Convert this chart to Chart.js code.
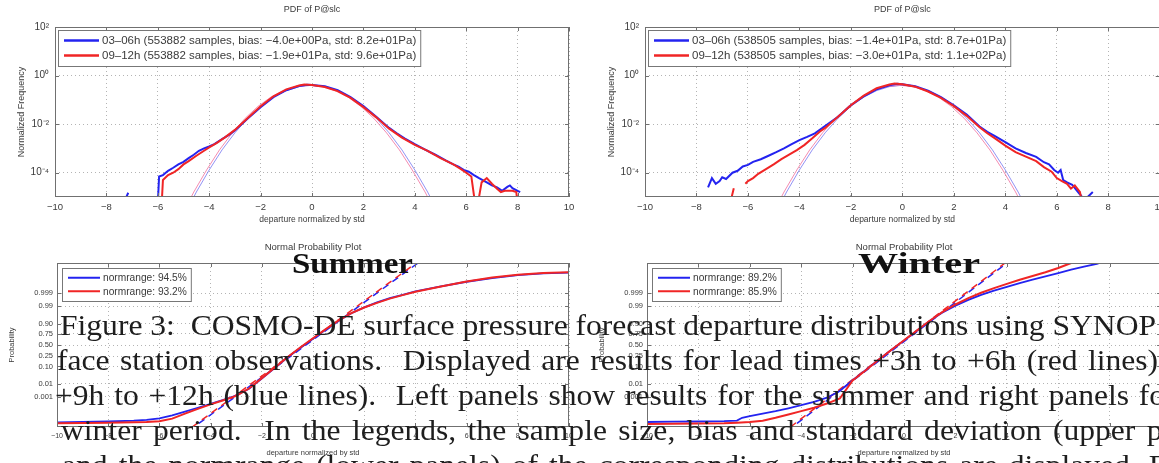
<!DOCTYPE html>
<html>
<head>
<meta charset="utf-8">
<script src="https://cdn.jsdelivr.net/npm/chart.js@4.4.1/dist/chart.umd.min.js"></script>
<style>
  html, body { margin: 0; padding: 0; background: #fff; }
  body { position: relative; width: 1159px; height: 463px; overflow: hidden; }
  canvas { position: absolute; }
  .cap, .season {
    position: absolute; white-space: nowrap; color: #1e1e1e;
    font-family: "Liberation Serif", "Times New Roman", serif;
    transform-origin: 0 0;
  }
  .cap { font-size: 30px; line-height: 30px; }
  .season { font-size: 29px; line-height: 29px; font-weight: bold; color: #111; }
</style>
</head>
<body>
<canvas id="pdfSummer" width="580" height="232" style="left:0;top:0"></canvas>
<canvas id="pdfWinter" width="580" height="232" style="left:590px;top:0"></canvas>
<canvas id="npSummer" width="580" height="227" style="left:0;top:236px"></canvas>
<canvas id="npWinter" width="580" height="227" style="left:590px;top:236px"></canvas>

<div class="season" data-w="121" style="left:292px;top:249px">Summer</div>
<div class="season" data-w="122" style="left:858px;top:249px">Winter</div>

<div class="cap" style="left:60px;top:310px"><span class="ref">Figure 3:&nbsp; COSMO-DE surface pressure forecast departure distributions using SYNOP</span></div>
<div class="cap" style="left:57px;top:345px;word-spacing:2.4px">face station observations.&nbsp; Displayed are results for lead times +3h to +6h (red lines) and</div>
<div class="cap" style="left:55px;top:380px;word-spacing:1.8px">+9h to +12h (blue lines).&nbsp; Left panels show results for the summer and right panels for the</div>
<div class="cap" style="left:61px;top:415px;word-spacing:3.3px">winter period.&nbsp; In the legends, the sample size, bias and standard deviation (upper panels)</div>
<div class="cap" style="left:62px;top:450px;word-spacing:3px">and the normrange (lower panels) of the corresponding distributions are displayed. For</div>

<script>
// ---- PDF panels: departure normalized by std vs normalized frequency ----
const gaussX     = [-5, -4.5, -4, -3.5, -3, -2.5, -2, -1.5, -1, -0.5, 0, 0.5, 1, 1.5, 2, 2.5, 3, 3.5, 4, 4.5, 5];
const gaussXRed  = [-5.1, -4.6, -4.1, -3.6, -3.1, -2.6, -2.1, -1.6, -1.1, -0.6, -0.1, 0.4, 0.9, 1.4, 1.9, 2.4, 2.9, 3.4, 3.9, 4.4, 4.9];
const gaussY     = [1.5e-6, 1.6e-5, 1.3e-4, 8.7e-4, 4.4e-3, 0.0175, 0.054, 0.13, 0.24, 0.35, 0.4,
                    0.35, 0.24, 0.13, 0.054, 0.0175, 4.4e-3, 8.7e-4, 1.3e-4, 1.6e-5, 1.5e-6];

const sumPdfBlueX = [-7.35, -7.15, -7.1, -6.0, -5.95, -5.8, -5.6, -5.4, -5.2, -5.0, -4.8, -4.6, -4.4, -4.2, -4.0, -3.8, -3.5, -3.2, -3.0,
                     -2.5, -2.0, -1.5, -1.0, -0.5, -0.2, 0, 0.5, 1.0, 1.5, 2.0, 2.5, 3.0, 3.3, 3.6, 4.0, 4.4, 4.8, 5.2, 5.5,
                     5.7, 5.9, 6.1, 6.3, 6.5, 6.8, 7.0, 7.2, 7.4, 7.6, 7.7, 7.8, 8.0, 8.1];
const sumPdfBlueY = [5e-6, 1.5e-5, null, 5e-6, 7e-5, 8e-5, 1.2e-4, 1.6e-4, 2.2e-4, 2.8e-4, 4e-4, 5.5e-4, 8e-4, 1.0e-3, 1.2e-3, 1.5e-3, 2.4e-3, 3.8e-3, 5.5e-3,
                     0.017, 0.05, 0.13, 0.25, 0.37, 0.42, 0.41, 0.36, 0.25, 0.13, 0.055, 0.02, 7e-3, 4.2e-3, 2.6e-3, 1.5e-3, 9e-4, 5.5e-4, 3.2e-4, 2.2e-4,
                     1.8e-4, 1.3e-4, 1.1e-4, 8e-5, 6e-5, 4e-5, 3e-5, 2.5e-5, 1.8e-5, 2.6e-5, 3e-5, 2.3e-5, 1.8e-5, 1.6e-5];
const sumPdfRedX  = [-5.85, -5.8, -5.6, -5.4, -5.2, -5.0, -4.8, -4.5, -4.2, -4.0, -3.7, -3.4, -3.0, -2.5, -2.0, -1.5, -1.0, -0.5, -0.3, 0,
                     0.5, 1.0, 1.5, 2.0, 2.5, 3.0, 3.5, 4.0, 4.5, 5.0, 5.5, 5.8, 6.0, 6.2, 6.35, 6.45, 6.6, 6.8, 7.0, 7.2, 7.35, 7.5, 7.8, 7.95, 8.0];
const sumPdfRedY  = [5e-6, 5e-5, 8e-5, 1.0e-4, 1.4e-4, 2.2e-4, 3e-4, 5e-4, 8e-4, 1.1e-3, 1.7e-3, 2.8e-3, 5.8e-3, 0.018, 0.055, 0.14, 0.27, 0.39, 0.43, 0.41,
                     0.34, 0.23, 0.12, 0.05, 0.019, 6.5e-3, 2.8e-3, 1.4e-3, 8e-4, 4e-4, 2.2e-4, 1.4e-4, 1.0e-4, 7e-5, 5e-6, 5e-6, 4e-5, 6e-5, 3.5e-5, 2.2e-5, 1.6e-5, 1.8e-5, 1.8e-5, 1.6e-5, 5e-6];

const winPdfBlueX = [-7.55, -7.4, -7.25, -7.1, -7.0, -6.85, -6.6, -6.4, -6.2, -6.0, -5.8, -5.5, -5.2, -4.9, -4.6, -4.3, -4.0, -3.7, -3.4, -3.1,
                     -2.8, -2.5, -2.0, -1.5, -1.0, -0.5, -0.2, 0, 0.5, 1.0, 1.5, 2.0, 2.5, 3.0, 3.3, 3.6, 4.0, 4.4, 4.8, 5.2,
                     5.5, 5.7, 5.9, 6.05, 6.15, 6.25, 6.4, 6.6, 6.75, 6.9, 7.05, 7.2, 7.4];
const winPdfBlueY = [2.5e-5, 6e-5, 3.5e-5, 4.5e-5, 6.5e-5, 5.5e-5, 1.0e-4, 1.2e-4, 1.8e-4, 2.1e-4, 2.8e-4, 3.6e-4, 5e-4, 7e-4, 1.0e-3, 1.5e-3, 2.2e-3, 3e-3, 4.2e-3, 7e-3,
                     0.012, 0.02, 0.06, 0.14, 0.27, 0.4, 0.46, 0.44, 0.36, 0.24, 0.13, 0.06, 0.025, 8e-3, 4.8e-3, 3.2e-3, 1.8e-3, 1.0e-3, 6.5e-4, 4.5e-4,
                     2.7e-4, 2.2e-4, 1.3e-4, 1.0e-4, 1.3e-4, 5e-5, 4e-5, 3.2e-5, 2e-5, 1.3e-5, 8e-6, 1.0e-5, 1.6e-5];
const winPdfRedX  = [-6.7, -6.55, -6.5, -6.1, -6.0, -5.8, -5.6, -5.3, -5.0, -4.7, -4.4, -4.1, -3.8, -3.5, -3.2, -3.0, -2.5, -2.0, -1.5, -1.0,
                     -0.5, -0.3, 0, 0.5, 1.0, 1.5, 2.0, 2.5, 3.0, 3.3, 3.6, 4.0, 4.4, 4.8, 5.2, 5.5, 5.8, 6.0, 6.2, 6.4, 6.55, 6.7, 6.9, 7.0];
const winPdfRedY  = [5e-6, 2.3e-5, null, 3.5e-5, 4.5e-5, 6e-5, 9e-5, 1.4e-4, 2.2e-4, 3.6e-4, 5.5e-4, 8.5e-4, 1.4e-3, 2.6e-3, 5e-3, 7e-3, 0.02, 0.06, 0.15, 0.3,
                     0.43, 0.47, 0.44, 0.35, 0.22, 0.12, 0.055, 0.022, 7.5e-3, 4.2e-3, 2.6e-3, 1.3e-3, 7e-4, 4.6e-4, 3e-4, 1.7e-4, 1.1e-4, 6e-5, 4.5e-5, 3.5e-5, 2.2e-5, 3e-5, 1.6e-5, 5e-6];

const sumPdfLabels = ['03\u201306h (553882 samples, bias: \u22124.0e+00Pa, std: 8.2e+01Pa)',
                      '09\u201312h (553882 samples, bias: \u22121.9e+01Pa, std: 9.6e+01Pa)'];
const winPdfLabels = ['03\u201306h (538505 samples, bias: \u22121.4e+01Pa, std: 8.7e+01Pa)',
                      '09\u201312h (538505 samples, bias: \u22123.0e+01Pa, std: 1.1e+02Pa)'];
const pdfTickValues = [1e-4, 1e-2, 1, 100];
const pdfTickLabels = ['10\u207B\u2074', '10\u207B\u00B2', '10\u2070', '10\u00B2'];

// ---- normal probability panels (y in standard normal quantiles) ----
const npX        = [-10, -9, -8, -7, -6.5, -6, -5.5, -5, -4.5, -4, -3.5, -3, -2.5, -2, -1.5, -1, -0.5, 0, 0.5, 1, 1.5, 2, 2.5, 3, 3.5, 4, 5, 6, 7, 8, 9, 10];
const sumNpBlueQ = [-4.62, -4.6, -4.57, -4.52, -4.47, -4.38, -4.2, -3.98, -3.75, -3.52, -3.28, -3.02, -2.62, -2.0, -1.38, -0.75, -0.18, 0.37,
                    0.92, 1.45, 1.9, 2.25, 2.55, 2.8, 3.0, 3.2, 3.5, 3.78, 4.0, 4.18, 4.28, 4.33];
const sumNpRedQ  = [-4.68, -4.66, -4.64, -4.62, -4.6, -4.55, -4.4, -4.1, -3.82, -3.55, -3.3, -3.04, -2.6, -1.98, -1.36, -0.73, -0.15, 0.4,
                    0.95, 1.47, 1.9, 2.24, 2.52, 2.77, 2.98, 3.18, 3.5, 3.8, 4.03, 4.2, 4.3, 4.35];
const sumRefBlueX = [-4.65, 4.1],  sumRefRedX = [-4.72, 4.03], sumRefQ = [-4.9, 4.9];

const winNpBlueX = [-10, -9, -8, -7, -6.5, -6.3, -6, -5.5, -5, -4.5, -4, -3.5, -3, -2.5, -2, -1.5, -1, -0.5, 0, 0.5, 1, 1.5, 2, 2.5, 3, 3.5,
                    4, 4.5, 5, 5.5, 6, 6.5, 7, 7.5, 7.7];
const winNpBlueQ = [-4.6, -4.58, -4.57, -4.55, -4.52, -4.35, -4.25, -4.1, -3.95, -3.78, -3.6, -3.4, -3.15, -2.75, -2.1, -1.5, -0.9, -0.3, 0.26,
                    0.85, 1.43, 1.95, 2.35, 2.7, 3.0, 3.25, 3.48, 3.7, 3.9, 4.1, 4.3, 4.5, 4.68, 4.85, 4.95];
const winNpRedX  = [-10, -9, -8, -7, -6.5, -6, -5.5, -5, -4.5, -4, -3.5, -3, -2.5, -2, -1.5, -1, -0.5, 0, 0.5, 1, 1.5, 2, 2.5, 3, 3.5,
                    4, 4.5, 5, 5.5, 6, 6.3, 6.5, 6.7];
const winNpRedQ  = [-4.72, -4.7, -4.69, -4.67, -4.64, -4.6, -4.52, -4.35, -4.15, -3.95, -3.75, -3.5, -3.2, -2.12, -1.52, -0.9, -0.3, 0.28,
                    0.87, 1.45, 1.98, 2.42, 2.8, 3.12, 3.4, 3.65, 3.9, 4.12, 4.35, 4.6, 4.78, 4.9, 5.05];
const winRefBlueX = [-4.35, 4.0], winRefRedX = [-4.42, 3.93], winRefQ = [-4.9, 4.9];

const sumNpLabels = ['normrange: 94.5%', 'normrange: 93.2%'];
const winNpLabels = ['normrange: 89.2%', 'normrange: 85.9%'];
const probTickQ      = [-3.090, -2.326, -1.282, -0.674, 0, 0.674, 1.282, 2.326, 3.090];
const probTickLabels = ['0.001', '0.01', '0.10', '0.25', '0.50', '0.75', '0.90', '0.99', '0.999'];

const BLUE = '#2323f0', RED = '#f02525';
const SANS = '"Liberation Sans", Arial, Helvetica, sans-serif';
const TXT = '#3a3a3a';

const pts = (xs, ys) => xs.map((x, i) => ({ x: x, y: ys[i] }));
const minusFmt = v => (v < 0 ? '\u2212' + (-v) : String(v));

// closed axes box with inward tick marks
const axesBox = {
  id: 'axesBox',
  afterDatasetsDraw(chart) {
    const { ctx, chartArea: a, scales } = chart;
    ctx.save();
    ctx.strokeStyle = '#707070';
    ctx.lineWidth = 1;
    ctx.strokeRect(Math.round(a.left) + 0.5, Math.round(a.top) + 0.5,
                   Math.round(a.right - a.left) - 1, Math.round(a.bottom - a.top) - 1);
    ctx.beginPath();
    scales.x.ticks.forEach(t => {
      const x = Math.round(scales.x.getPixelForValue(t.value)) + 0.5;
      ctx.moveTo(x, a.bottom); ctx.lineTo(x, a.bottom - 4);
      ctx.moveTo(x, a.top);    ctx.lineTo(x, a.top + 4);
    });
    scales.y.ticks.forEach(t => {
      const y = Math.round(scales.y.getPixelForValue(t.value)) + 0.5;
      ctx.moveTo(a.left, y);  ctx.lineTo(a.left + 4, y);
      ctx.moveTo(a.right, y); ctx.lineTo(a.right - 4, y);
    });
    ctx.stroke();
    ctx.restore();
  }
};

// legend box drawn inside the axes, upper left
const boxLegend = {
  id: 'boxLegend',
  afterDraw(chart, args, opts) {
    const { ctx, chartArea: a } = chart;
    const rows = chart.data.datasets.filter(d => d.inLegend).sort((p, q) => p.inLegend - q.inLegend);
    ctx.save();
    ctx.font = opts.fontSize + 'px ' + SANS;
    const textW = Math.max(...rows.map(r => ctx.measureText(r.label).width));
    const x0 = a.left + opts.dx, y0 = a.top + opts.dy;
    const w = 6 + opts.lineLen + 3 + textW + 4;
    const h = rows.length * opts.rowH + 6;
    ctx.fillStyle = '#fff';
    ctx.fillRect(x0, y0, w, h);
    ctx.strokeStyle = '#777';
    ctx.lineWidth = 1;
    ctx.strokeRect(x0 + 0.5, y0 + 0.5, w, h);
    rows.forEach((r, i) => {
      const y = y0 + 3 + opts.rowH * (i + 0.5);
      ctx.strokeStyle = r.borderColor;
      ctx.lineWidth = opts.lineW;
      ctx.beginPath();
      ctx.moveTo(x0 + 6, y); ctx.lineTo(x0 + 6 + opts.lineLen, y);
      ctx.stroke();
      ctx.fillStyle = TXT;
      ctx.textBaseline = 'middle';
      ctx.fillText(r.label, x0 + 6 + opts.lineLen + 3, y + 0.5);
    });
    ctx.restore();
  }
};

function lineSet(label, data, color, extra) {
  return Object.assign({
    label: label, data: data, borderColor: color, backgroundColor: color,
    borderWidth: 2, pointRadius: 0, tension: 0, fill: false, spanGaps: false
  }, extra || {});
}

function xScale(fontSize, labelPad, titleSize, titlePad, height) {
  return {
    type: 'linear', min: -10, max: 10,
    ticks: { stepSize: 2, color: TXT, font: { family: SANS, size: fontSize }, padding: labelPad,
             maxRotation: 0, autoSkip: false, callback: minusFmt },
    grid: { color: '#b4b4b4', lineWidth: 1, drawTicks: false },
    border: { display: false, dash: [1, 3] },
    title: { display: true, text: 'departure normalized by std', color: TXT,
             font: { family: SANS, size: titleSize }, padding: titlePad },
    afterFit: s => { s.height = height; }
  };
}

function pdfChart(id, blueX, blueY, redX, redY, labels, padRight) {
  return new Chart(document.getElementById(id), {
    type: 'line',
    data: {
      datasets: [
        lineSet(labels[1], pts(redX, redY), RED, { inLegend: 2, order: 1 }),
        lineSet(labels[0], pts(blueX, blueY), BLUE, { inLegend: 1, order: 2 }),
        lineSet('normal fit 09\u201312h', pts(gaussXRed, gaussY), 'rgba(240,100,150,0.75)', { borderWidth: 1, order: 3 }),
        lineSet('normal fit 03\u201306h', pts(gaussX, gaussY), 'rgba(110,110,240,0.75)', { borderWidth: 1, order: 4 })
      ]
    },
    options: {
      responsive: false, animation: false,
      layout: { padding: { left: 0, right: padRight, top: 0, bottom: 0 } },
      plugins: {
        legend: { display: false },
        tooltip: { enabled: false },
        title: { display: true, text: 'PDF of P@slc', color: TXT, fullSize: false,
                 font: { family: SANS, size: 9, weight: 'normal' }, padding: { top: 4, bottom: 12.2 } },
        boxLegend: { dx: 3, dy: 3, fontSize: 11.5, rowH: 15, lineLen: 35, lineW: 2.5 }
      },
      scales: {
        x: xScale(9.5, 5, 8.5, 7, 35),
        y: {
          type: 'logarithmic', min: 1e-5, max: 100,
          afterBuildTicks: s => { s.ticks = pdfTickValues.map(v => ({ value: v })); },
          ticks: { color: TXT, font: { family: SANS, size: 10 }, padding: 6, autoSkip: false,
                   callback: v => pdfTickLabels[pdfTickValues.indexOf(v)] },
          grid: { color: '#b4b4b4', lineWidth: 1, drawTicks: false },
          border: { display: false, dash: [1, 3] },
          title: { display: true, text: 'Normalized Frequency', color: TXT,
                   font: { family: SANS, size: 9 }, padding: 16.5 },
          afterFit: s => { s.width = 55; }
        }
      }
    },
    plugins: [axesBox, boxLegend]
  });
}

function npChart(id, blueX, blueQ, redX, redQ, refBlueX, refRedX, refQ, labels, padRight) {
  return new Chart(document.getElementById(id), {
    type: 'line',
    data: {
      datasets: [
        lineSet(labels[1], pts(redX, redQ), RED, { inLegend: 2, order: 1 }),
        lineSet(labels[0], pts(blueX, blueQ), BLUE, { inLegend: 1, order: 2, borderWidth: 1.8 }),
        lineSet('reference 09\u201312h', pts(refRedX, refQ), RED, { borderWidth: 1.5, borderDash: [7, 5], order: 3 }),
        lineSet('reference 03\u201306h', pts(refBlueX, refQ), BLUE, { borderWidth: 1.5, borderDash: [7, 5], borderDashOffset: 6, order: 4 })
      ]
    },
    options: {
      responsive: false, animation: false,
      layout: { padding: { left: 0, right: padRight, top: 0, bottom: 0 } },
      plugins: {
        legend: { display: false },
        tooltip: { enabled: false },
        title: { display: true, text: 'Normal Probability Plot', color: TXT, fullSize: false,
                 font: { family: SANS, size: 9.5, weight: 'normal' }, padding: { top: 6, bottom: 9.6 } },
        boxLegend: { dx: 5, dy: 5, fontSize: 10.2, rowH: 13.5, lineLen: 32, lineW: 2 }
      },
      scales: {
        x: xScale(7, 5, 7.5, 6, 36),
        y: {
          type: 'linear', min: -4.9, max: 4.9,
          afterBuildTicks: s => { s.ticks = probTickQ.map(v => ({ value: v })); },
          ticks: { color: TXT, font: { family: SANS, size: 7.5 }, padding: 4, autoSkip: false,
                   callback: v => probTickLabels[probTickQ.indexOf(v)] },
          grid: { color: '#b4b4b4', lineWidth: 1, drawTicks: false },
          border: { display: false, dash: [1, 3] },
          title: { display: true, text: 'Probability', color: TXT,
                   font: { family: SANS, size: 7.5 }, padding: 7.5 },
          afterFit: s => { s.width = 57; }
        }
      }
    },
    plugins: [axesBox, boxLegend]
  });
}

pdfChart('pdfSummer', sumPdfBlueX, sumPdfBlueY, sumPdfRedX, sumPdfRedY, sumPdfLabels, 11);
pdfChart('pdfWinter', winPdfBlueX, winPdfBlueY, winPdfRedX, winPdfRedY, winPdfLabels, 8);
npChart('npSummer', npX, sumNpBlueQ, npX, sumNpRedQ, sumRefBlueX, sumRefRedX, sumRefQ, sumNpLabels, 11);
npChart('npWinter', winNpBlueX, winNpBlueQ, winNpRedX, winNpRedQ, winRefBlueX, winRefRedX, winRefQ, winNpLabels, 7);

// stretch the serif overlay text horizontally to its printed width
const ref = document.querySelector('.cap .ref');
const capScale = 1096 / ref.getBoundingClientRect().width;
document.querySelectorAll('.cap').forEach(el => { el.style.transform = 'scaleX(' + capScale + ')'; });
document.querySelectorAll('.season').forEach(el => {
  const k = Number(el.dataset.w) / el.getBoundingClientRect().width;
  el.style.transform = 'scaleX(' + k + ')';
});
</script>
</body>
</html>
